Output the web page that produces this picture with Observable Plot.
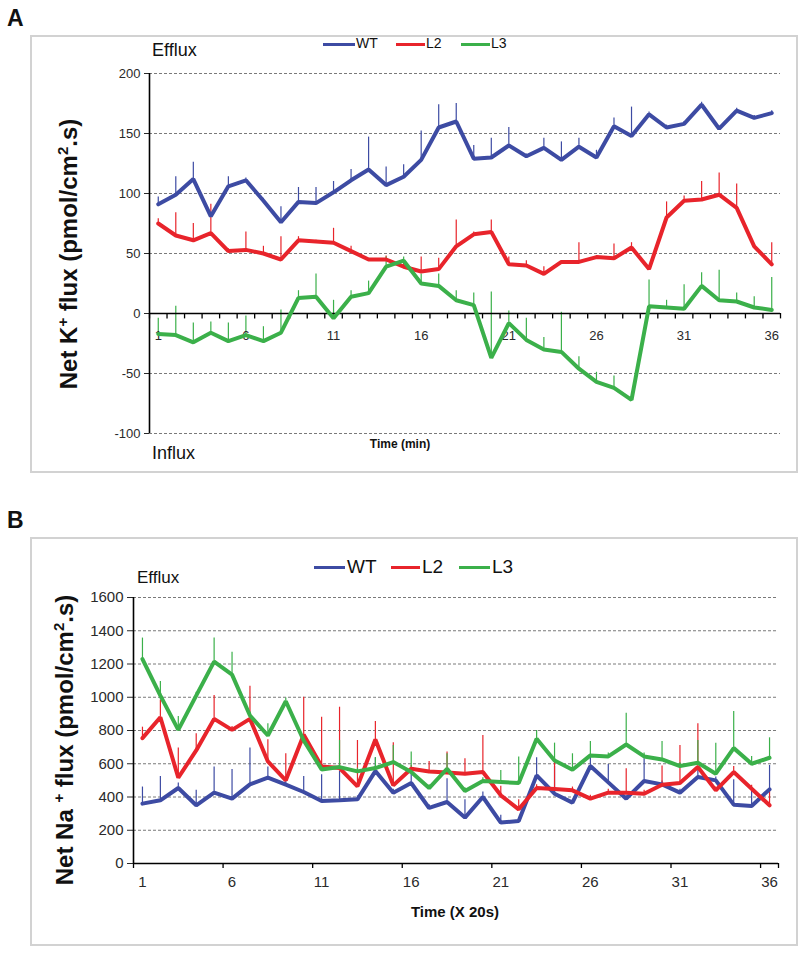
<!DOCTYPE html>
<html><head><meta charset="utf-8">
<script src="https://cdn.jsdelivr.net/npm/d3@7"></script>
<script src="https://cdn.jsdelivr.net/npm/@observablehq/plot@0.6"></script>
<style>
body{margin:0;background:#fff;font-family:"Liberation Sans",Arial,sans-serif;color:#111;}
#page{position:relative;width:800px;height:953px;overflow:hidden;background:#fff;}
.abs{position:absolute;white-space:nowrap;line-height:1;}
.frame{position:absolute;border:2px solid #d2d2d2;box-sizing:border-box;}
.plot{position:absolute;left:0;}
.ytitle{position:absolute;font-weight:bold;white-space:nowrap;transform:translate(-50%,-50%) rotate(-90deg);line-height:1;}
.sw{position:absolute;height:3px;}
</style></head><body><div id="page">
<div class="frame" style="left:30px;top:35px;width:768px;height:438px"></div>
<div class="frame" style="left:30px;top:537px;width:768px;height:409px"></div>
<div class="abs" style="left:7px;top:7px;font-weight:bold;font-size:23px">A</div>
<div class="abs" style="left:7px;top:509px;font-weight:bold;font-size:23px">B</div>
<div id="plotA" class="plot" style="top:0px"></div>
<div id="plotB" class="plot" style="top:480px"></div>
<div class="abs" style="left:152px;top:41px;font-size:18px">Efflux</div>
<div class="abs" style="left:152px;top:444px;font-size:18px">Influx</div>
<div class="abs" style="left:400px;top:444px;font-size:12px;font-weight:bold;transform:translate(-50%,-50%)">Time (min)</div>
<div class="abs" style="left:137px;top:569px;font-size:17px">Efflux</div>
<div class="abs" style="left:455px;top:911px;font-size:15px;font-weight:bold;transform:translate(-50%,-50%)">Time (X 20s)</div>
<div class="ytitle" style="left:68px;top:254px;font-size:24px">Net K<sup style="font-size:15px">+</sup> flux (pmol/cm<sup style="font-size:15px">2</sup>.s)</div>
<div class="ytitle" style="left:64px;top:740px;font-size:24px">Net Na <sup style="font-size:15px">+</sup> flux (pmol/cm<sup style="font-size:15px">2</sup>.s)</div>
</div>
<script>
// ---- categories & labels ----
const time = [1,2,3,4,5,6,7,8,9,10,11,12,13,14,15,16,17,18,19,20,21,22,23,24,25,26,27,28,29,30,31,32,33,34,35,36];
const xTickLabels = [1,6,11,16,21,26,31,36];
const series = ["WT","L2","L3"];
const colors = ["#3d4ba3","#e8242b","#3bb04a"];
const kTicks = [-100,-50,0,50,100,150,200];
const naTicks = [0,200,400,600,800,1000,1200,1400,1600];

// ---- Panel A: net K+ flux (mean, upper error) ----
const kWT = [91,99,112,81,106,111,94,76,93,92,101,111,120,107,114,128,155,160,129,130,140,131,138,128,139,130,156,148,166,155,158,174,154,169,163,167];
const kWTerr = [6,15,14,3,8,2,2,13,12,13,9,9,27,15,10,24,19,15,11,16,15,2,8,15,7,6,7,24,2,2,2,2,2,2,2,2];
const kL2 = [75,65,61,67,52,53,50,45,61,60,59,52,45,45,39,35,37,56,66,68,41,40,33,43,43,47,46,55,37,80,94,95,99,88,56,41];
const kL2err = [4,19,14,24,2,15,6,19,3,1,12,4,1,3,3,12,9,22,2,10,6,4,6,1,16,1,12,4,1,13,4,15,18,20,1,18];
const kL3 = [-17,-18,-24,-16,-23,-18,-23,-16,13,14,-4,14,17,39,44,25,23,11,7,-37,-8,-22,-30,-32,-46,-57,-62,-72,6,5,4,23,11,10,5,3];
const kL3err = [13,24,16,9,15,16,12,19,6,19,15,5,10,8,3,8,10,8,10,55,10,18,10,33,10,8,10,1,22,6,20,11,25,7,9,27];

// ---- Panel B: net Na+ flux (mean, upper error) ----
const naWT = [360,380,454,350,426,390,476,516,474,430,376,380,386,556,426,484,334,370,276,400,246,256,530,420,366,586,488,390,496,476,426,520,500,354,346,446];
const naWTerr = [100,144,30,90,154,176,218,64,20,94,158,174,20,80,20,56,20,140,108,30,44,20,106,164,20,54,108,20,134,20,20,44,20,150,94,144];
const naL2 = [754,880,516,680,870,804,870,614,500,774,584,574,464,746,470,570,554,548,540,550,410,326,454,448,440,390,426,426,420,474,484,580,440,550,450,350];
const naL2err = [66,104,178,100,140,20,196,130,160,226,296,366,276,108,256,20,60,122,90,220,54,58,20,166,20,20,20,144,20,112,226,260,20,34,20,90];
const naL3 = [1230,1010,804,1010,1214,1136,890,770,976,740,566,580,554,574,610,550,454,570,436,496,490,484,750,620,564,650,644,716,644,626,586,606,540,694,600,636];
const naL3err = [126,84,80,20,142,134,20,70,20,20,20,160,20,62,100,120,20,90,20,20,70,156,50,104,96,84,20,188,20,108,20,134,184,220,44,120];

function rows(vals, errs){
  const out=[];
  series.forEach((s,k)=>time.forEach((t,i)=>out.push({t, s, v:vals[k][i], e:errs[k][i]})));
  return out;
}
const rowsA = rows([kWT,kL2,kL3],[kWTerr,kL2err,kL3err]);
const rowsB = rows([naWT,naL2,naL3],[naWTerr,naL2err,naL3err]);
const boundsA = [0].concat(time).map(t=>t+0.5);
const boundsB = [0,5,10,15,20,25,30,35,36].map(t=>t+0.5);
const font = '"Liberation Sans",Arial,sans-serif';
const plain = d => String(d);

const plotA = Plot.plot({
  width:800, height:480, marginLeft:149, marginRight:20, marginTop:73, marginBottom:47,
  style:{background:"transparent", fontFamily:font, overflow:"visible"},
  x:{domain:[0.5,36.5], axis:null},
  y:{domain:[-100,200], axis:null},
  color:{domain:series, range:colors},
  marks:[
    Plot.gridY(kTicks.filter(d=>d!==0), {stroke:"#7a7a7a", strokeOpacity:1, strokeDasharray:"3,2"}),
    Plot.axisY(kTicks, {tickSize:5, tickPadding:4, fontSize:13, color:"#2a2a2a", label:null, tickFormat:plain}),
    Plot.ruleX(rowsA, {x:"t", y1:"v", y2:d=>d.v+d.e, stroke:"s", strokeWidth:1.2}),
    Plot.ruleX([0.5], {stroke:"#000", strokeWidth:1.6}),
    Plot.ruleY([0], {stroke:"#000", strokeWidth:1.6}),
    Plot.ruleX(boundsA, {x:d=>d, y1:0, y2:-4.5, stroke:"#000", strokeWidth:1.3}),
    Plot.text(xTickLabels, {x:d=>d, y:0, dy:22, fontSize:13, fill:"#2a2a2a"}),
    Plot.line(rowsA, {x:"t", y:"v", stroke:"s", z:"s", strokeWidth:4, strokeLinejoin:"miter"})
  ]
});
document.getElementById("plotA").appendChild(plotA);

const plotB = Plot.plot({
  width:800, height:473, marginLeft:133, marginRight:22, marginTop:117, marginBottom:90,
  style:{background:"transparent", fontFamily:font, overflow:"visible"},
  x:{domain:[0.5,36.5], axis:null},
  y:{domain:[0,1600], axis:null},
  color:{domain:series, range:colors},
  marks:[
    Plot.gridY(naTicks.filter(d=>d!==0), {stroke:"#7a7a7a", strokeOpacity:1, strokeDasharray:"3,2"}),
    Plot.axisY(naTicks, {tickSize:6, tickPadding:4, fontSize:15, color:"#2a2a2a", label:null, tickFormat:plain}),
    Plot.axisX(xTickLabels, {tickSize:0, tickPadding:13, fontSize:15, color:"#2a2a2a", label:null, tickFormat:plain}),
    Plot.ruleX(rowsB, {x:"t", y1:"v", y2:d=>d.v+d.e, stroke:"s", strokeWidth:1.2}),
    Plot.ruleX([0.5], {stroke:"#000", strokeWidth:1.6}),
    Plot.ruleY([0], {stroke:"#000", strokeWidth:1.6}),
    Plot.ruleX(boundsB, {x:d=>d, y1:0, y2:-30, stroke:"#000", strokeWidth:1.3}),
    Plot.line(rowsB, {x:"t", y:"v", stroke:"s", z:"s", strokeWidth:4, strokeLinejoin:"miter"})
  ]
});
document.getElementById("plotB").appendChild(plotB);

// ---- legends ----
function legend(items, top, fs){
  const page = document.getElementById("page");
  items.forEach(([x0,x1,tx],k)=>{
    const sw=document.createElement("div");
    sw.className="sw"; sw.style.left=x0+"px"; sw.style.width=(x1-x0)+"px";
    sw.style.top=(top-1)+"px"; sw.style.background=colors[k];
    page.appendChild(sw);
    const t=document.createElement("div");
    t.className="abs"; t.style.left=tx+"px"; t.style.top=(top - fs*0.55)+"px";
    t.style.fontSize=fs+"px"; t.textContent=series[k];
    page.appendChild(t);
  });
}
legend([[323,355,356],[396,425,426],[461,490,491]], 44, 14);
legend([[314,345,347],[391,420,422],[459,490,492]], 567, 19);
</script>
</body></html>
